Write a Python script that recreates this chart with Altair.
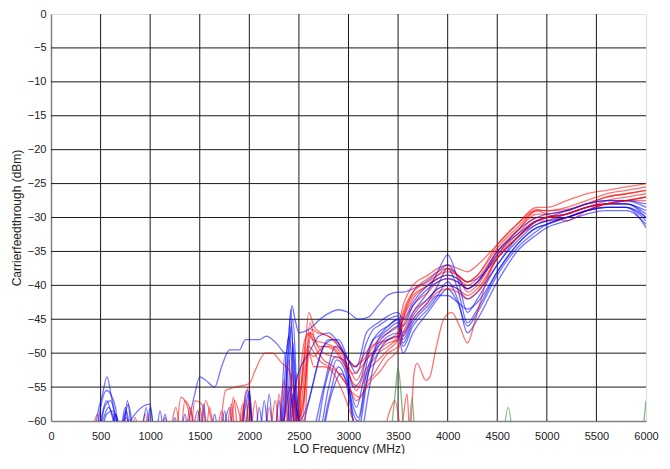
import altair as alt
import pandas as pd

X_TICKS = list(range(0, 6001, 500))
Y_TICKS = list(range(-60, 1, 5))
X_GRID = X_TICKS[1:-1]
Y_GRID = Y_TICKS[1:-1]

# shared frequency grid for the upper (3300-6000 MHz) part of most traces
X_HI = [3300, 3400, 3500, 3550, 3650, 3800, 3900, 4000, 4100, 4200,
        4300, 4500, 4700, 4900, 5000, 5200, 5400, 5600, 5800, 6000]

# ---- blue traces ----
B1_LO = [(1350, -63), (1450, -56), (1500, -53.5), (1560, -54), (1650, -55), (1720, -52),
         (1800, -49.5), (1900, -49.5), (1960, -48), (2100, -48), (2170, -47.5), (2270, -48.5),
         (2370, -50), (2400, -47), (2430, -43), (2460, -45), (2500, -47), (2600, -46.5),
         (2730, -44.8), (2900, -43.6), (3000, -44), (3100, -45), (3200, -44.7)]
B1_HI = [-43, -41.4, -41, -41, -40.5, -39.3, -38, -37, -38.5, -39.5, -39, -36, -33, -30.5, -30, -29.5, -28.5, -28, -28, -29]

B2_LO = [(430, -63), (470, -59), (520, -56), (565, -53.5), (610, -56.5), (660, -60), (700, -62),
         (780, -57.5), (840, -62), (1200, -63), (1950, -63), (2000, -56), (2050, -63), (2300, -63),
         (2380, -52), (2420, -43.5), (2460, -60), (2520, -62), (2620, -62), (2750, -55), (2870, -49),
         (2950, -50), (3030, -56), (3080, -58), (3150, -54), (3220, -49)]
B2_HI = [-47, -46, -45, -47, -44, -41, -38, -35.5, -39, -44, -42, -37, -33.5, -31, -30.5, -30, -29, -28, -28, -30]

B3_LO = [(450, -63), (500, -58), (560, -55.5), (600, -56), (650, -58), (700, -63), (800, -60),
         (1000, -57.5), (1050, -63), (1400, -63), (1480, -58.5), (1530, -63), (2150, -63), (2200, -56),
         (2250, -63), (2350, -60), (2400, -49), (2440, -45), (2480, -56), (2530, -63), (2650, -63),
         (2760, -55), (2870, -50.5), (2950, -51), (3050, -59), (3100, -60), (3170, -55), (3250, -50)]
B3_HI = [-48, -46.5, -45.5, -48, -45, -42.5, -40, -37.5, -40.5, -45.5, -43.5, -38, -34, -31.5, -31, -30, -29, -28.5, -28.5, -31.5]

B4_LO = [(480, -63), (540, -58), (600, -57), (660, -60), (720, -63), (770, -57), (830, -63),
         (950, -63), (1000, -58), (1050, -63), (1700, -63), (1800, -58), (1850, -63), (2300, -63),
         (2400, -47.5), (2450, -55), (2500, -60), (2600, -57), (2700, -51), (2800, -48), (2900, -48),
         (3000, -51), (3080, -53), (3180, -48.5), (3250, -46.5)]
B4_HI = [-46, -45, -44.5, -46, -43, -40.5, -39.5, -39, -39.5, -40.5, -39.5, -35.5, -32, -30, -29.5, -29, -28, -27.5, -27.5, -28.5]

B5_LO = [(450, -63), (520, -60), (580, -58), (640, -60), (700, -63), (1100, -63), (1150, -59),
         (1200, -63), (1900, -63), (1980, -55.5), (2050, -62), (2200, -60), (2300, -63), (2420, -55),
         (2470, -63), (2700, -63), (2800, -57), (2900, -52), (2970, -54), (3050, -60), (3100, -61),
         (3200, -53), (3250, -50.5)]
B5_HI = [-49, -47.5, -47, -49, -46, -43.5, -41.5, -39.5, -42, -47, -45, -39.5, -35, -32.5, -31.5, -30.5, -29.5, -29, -29, -31]

B6_LO = [(600, -63), (650, -59), (700, -61), (750, -58), (800, -63), (1200, -63), (1250, -59.5),
         (1300, -63), (1500, -63), (1540, -57.5), (1580, -63), (2100, -63), (2150, -57), (2200, -63),
         (2380, -63), (2420, -46), (2450, -52), (2500, -62), (2550, -60), (2650, -54), (2750, -49),
         (2850, -48), (2950, -50), (3050, -55), (3120, -54), (3200, -49.5), (3250, -48)]
B6_HI = [-47.5, -46, -45, -47.5, -44.5, -42, -40.5, -40, -40.5, -42, -41, -37, -33, -31, -30.5, -29.5, -28.5, -28, -28, -29.5]

B7_LO = [(500, -63), (560, -59), (620, -58.5), (680, -63), (900, -63), (960, -58), (1010, -63),
         (1700, -63), (1750, -58.5), (1800, -63), (2300, -63), (2360, -50), (2400, -60), (2440, -56),
         (2500, -63), (2700, -63), (2830, -56), (2920, -53), (3000, -55), (3060, -61), (3120, -62),
         (3200, -56), (3250, -52)]
B7_HI = [-50, -48, -47.5, -50, -47, -44, -42, -40.5, -42.5, -46, -44, -38.5, -34.5, -32, -31, -30, -29, -28.5, -28.5, -30.5]

B8_LO = [(700, -63), (760, -58.5), (820, -63), (1300, -63), (1350, -59), (1400, -63), (1900, -63),
         (1960, -58), (2000, -55.5), (2030, -63), (2250, -63), (2300, -57), (2340, -63), (2420, -60),
         (2460, -55), (2520, -52), (2600, -50), (2700, -47.5), (2800, -47), (2900, -48.5), (3000, -51),
         (3080, -52), (3180, -47), (3250, -46)]
B8_HI = [-45.5, -44.5, -44, -45, -42.5, -40, -39, -38.5, -39, -40.5, -39.5, -35, -32.5, -30.5, -30, -29, -28, -27.5, -27.5, -28]

B9_LO = [(450, -63), (500, -60), (560, -57), (620, -59.5), (680, -63), (1050, -63), (1100, -58.5),
         (1150, -63), (1600, -63), (1650, -59), (1700, -63), (2050, -63), (2100, -58), (2150, -63),
         (2400, -63), (2440, -48.5), (2480, -58), (2560, -63), (2700, -62), (2800, -55), (2880, -51),
         (2950, -52), (3050, -58), (3100, -59.5), (3180, -53), (3250, -50)]
B9_HI = [-48.5, -47, -46, -48.5, -45.5, -43, -41.5, -41.5, -42.5, -43.5, -42.5, -38, -34, -31.5, -31, -30, -29, -28.5, -28.5, -30]

# ---- red traces ----
R1_LO = [(440, -60), (470, -59), (520, -63), (1300, -63), (1350, -57), (1420, -59), (1480, -63),
         (1800, -63), (1850, -57), (1900, -59), (1950, -63), (2300, -63), (2400, -55), (2450, -60),
         (2550, -52), (2600, -44), (2650, -46), (2720, -47), (2850, -48), (2950, -50), (3050, -52),
         (3150, -51), (3250, -49)]
R1_HI = [-48, -47, -46, -43, -40, -38.5, -37.5, -37, -37.5, -38, -37, -34, -31, -28.5, -28.5, -27.5, -26.5, -26, -25.5, -25]

R2_LO = [(600, -63), (650, -59), (720, -63), (1250, -63), (1310, -56.5), (1380, -58), (1440, -63),
         (1900, -63), (1960, -56), (2000, -55), (2040, -63), (2330, -63), (2400, -51), (2440, -58),
         (2520, -55), (2580, -47), (2640, -48), (2750, -48.5), (2900, -49.5), (3000, -52), (3080, -54),
         (3180, -51), (3250, -50)]
R2_HI = [-49, -48, -47, -44, -41, -39.5, -38.5, -38, -38.5, -39.5, -38.5, -34.5, -31.5, -29, -29, -28.5, -27.5, -26.5, -26, -25.5]

R3_LO = [(700, -63), (760, -59.5), (830, -63), (1400, -63), (1450, -57), (1520, -57.5), (1600, -63),
         (1750, -63), (1820, -57.5), (1870, -63), (2200, -63), (2260, -57), (2320, -63), (2450, -63),
         (2500, -55), (2560, -48), (2620, -47), (2700, -49), (2800, -49), (2900, -50), (3000, -53),
         (3080, -55.5), (3170, -52.5), (3250, -51)]
R3_HI = [-50, -49, -47.5, -45, -42, -40, -39, -38.5, -39, -40, -39, -35, -32, -29.5, -29.5, -29, -28, -27, -26.5, -26]

R4_LO = [(1100, -63), (1150, -59.5), (1200, -63), (1500, -63), (1560, -57), (1620, -60), (1680, -63),
         (1880, -63), (1930, -57.5), (1990, -63), (2150, -63), (2200, -58), (2260, -63), (2380, -63),
         (2430, -53), (2480, -60), (2550, -57), (2610, -45.5), (2660, -48), (2750, -50), (2850, -50.5),
         (2950, -51), (3050, -54.5), (3120, -55), (3200, -52.5), (3260, -51.5)]
R4_HI = [-51, -49.5, -48, -46, -43, -41, -39.5, -39, -39.5, -40.5, -39.5, -35.5, -32.5, -30, -30, -29.5, -28.5, -27.5, -27, -26.5]

R5_LO = [(900, -63), (950, -59), (1000, -63), (1350, -63), (1400, -58), (1460, -63), (1650, -63),
         (1720, -58.5), (1770, -63), (2000, -63), (2060, -57), (2110, -63), (2350, -63), (2420, -56),
         (2460, -62), (2520, -58), (2590, -50), (2650, -50.5), (2750, -49), (2850, -49.5), (2950, -51.5),
         (3050, -53), (3130, -52), (3230, -50)]
R5_HI = [-49.5, -48.5, -48, -45, -41.5, -40, -38.5, -37.5, -38.5, -41, -40, -35, -32, -29, -29.5, -30.5, -29, -28, -27.5, -27]

R6_LO = [(1700, -63), (1760, -55.5), (1860, -55), (2000, -54.5), (2060, -52.5), (2160, -50),
         (2230, -50), (2330, -51.5), (2400, -52.5), (2450, -56), (2500, -60), (2560, -55), (2610, -47),
         (2660, -49), (2750, -51), (2850, -52), (2950, -54), (3050, -56), (3120, -56.5), (3200, -54),
         (3260, -53)]
R6_HI = [-52, -50, -49, -47, -44, -42, -40.5, -40, -40.5, -41.5, -40.5, -36, -33, -30.5, -30.5, -30, -29, -28, -27.5, -27]

R7_LO = [(1200, -63), (1260, -58), (1320, -63), (1550, -63), (1600, -58), (1660, -63), (1950, -63),
         (2000, -57), (2040, -63), (2250, -63), (2300, -56), (2350, -63), (2420, -63), (2480, -53),
         (2530, -60), (2580, -52), (2630, -46.5), (2690, -47), (2800, -47.5), (2900, -49), (3000, -51),
         (3070, -52), (3170, -50), (3250, -48.8)]
R7_HI = [-48.5, -48, -47.5, -44.5, -41, -39, -38, -37.5, -38.5, -39.5, -38.5, -34, -31, -28.8, -29, -28.8, -28, -27, -26.5, -26]

R8_LO = [(800, -63), (850, -59.5), (900, -63), (1450, -63), (1500, -58), (1560, -63), (1780, -63),
         (1840, -56.5), (1900, -63), (2280, -63), (2350, -54), (2400, -63), (2480, -63), (2540, -52),
         (2600, -49), (2700, -51), (2800, -52), (2900, -53), (3000, -55), (3080, -57), (3180, -55),
         (3260, -53.5)]
R8_HI = [-53, -51, -49.5, -47.5, -45, -42.5, -41, -40.5, -41, -42, -41, -36, -33, -30.5, -30, -29.5, -28.5, -28, -27.5, -27.5]

R9_ALL = [(1900, -63), (1960, -57), (2020, -63), (2400, -63), (2450, -57), (2500, -63), (2550, -63),
          (2600, -50), (2650, -52), (2750, -52), (2850, -53), (2950, -56), (3050, -60), (3150, -63),
          (3330, -63), (3410, -58.8), (3470, -57), (3530, -61), (3590, -56), (3620, -62), (3660, -53),
          (3690, -51.5), (3780, -54), (3820, -53.5), (3880, -49.5), (3960, -45), (4040, -44),
          (4120, -46), (4200, -48.5), (4280, -45), (4400, -39), (4500, -36), (4700, -33), (4900, -30.5),
          (5000, -30), (5200, -29.5), (5400, -28.5), (5600, -28), (5800, -27.5), (6000, -27)]

# ---- green traces ----
G1 = [(3420, -63), (3470, -56), (3500, -52.2), (3530, -56), (3560, -63)]
G2 = [(3610, -63), (3640, -56.6), (3670, -63)]
G3 = [(4560, -63), (4610, -58), (4660, -63)]
G4 = [(5960, -63), (6000, -57)]

CURVES = [
    ("R1", "red", R1_LO, R1_HI), ("B1", "blue", B1_LO, B1_HI),
    ("R2", "red", R2_LO, R2_HI), ("B2", "blue", B2_LO, B2_HI),
    ("R3", "red", R3_LO, R3_HI), ("B3", "blue", B3_LO, B3_HI),
    ("R4", "red", R4_LO, R4_HI), ("B4", "blue", B4_LO, B4_HI),
    ("R5", "red", R5_LO, R5_HI), ("B5", "blue", B5_LO, B5_HI),
    ("R6", "red", R6_LO, R6_HI), ("B6", "blue", B6_LO, B6_HI),
    ("R7", "red", R7_LO, R7_HI), ("B7", "blue", B7_LO, B7_HI),
    ("R8", "red", R8_LO, R8_HI), ("B8", "blue", B8_LO, B8_HI),
    ("R9", "red", R9_ALL, None), ("B9", "blue", B9_LO, B9_HI),
    ("G1", "green", G1, None), ("G2", "green", G2, None),
    ("G3", "green", G3, None), ("G4", "green", G4, None),
]

rows = []
for order, (cid, grp, lo, hi) in enumerate(CURVES):
    for x, y in lo:
        rows.append({"cid": f"{order:02d}_{cid}", "grp": grp, "x": x, "y": y})
    if hi is not None:
        for x, y in zip(X_HI, hi):
            rows.append({"cid": f"{order:02d}_{cid}", "grp": grp, "x": x, "y": y})
df = pd.DataFrame(rows)

FONT = "Liberation Sans"
TXT = "#222222"

xscale = alt.Scale(domain=[0, 6000], nice=False, zero=False)
yscale = alt.Scale(domain=[-60, 0], nice=False, zero=False)

x_axis = alt.Axis(values=X_TICKS, format="d", title="LO Frequency (MHz)", grid=False,
                  ticks=False, labelPadding=9, titlePadding=2,
                  domainColor="#808080", domainWidth=1.5,
                  labelFont=FONT, labelFontSize=11, labelColor=TXT,
                  titleFont=FONT, titleFontSize=12, titleColor=TXT,
                  titleFontWeight="normal", labelFlush=False)
y_axis = alt.Axis(values=Y_TICKS, format="d", title="Carrierfeedthrough (dBm)", grid=False,
                  ticks=False, labelPadding=5, titlePadding=4,
                  domainColor="#808080", domainWidth=1.5,
                  labelFont=FONT, labelFontSize=11, labelColor=TXT,
                  titleFont=FONT, titleFontSize=12, titleColor=TXT,
                  titleFontWeight="normal", labelFlush=False)

vgrid = alt.Chart(pd.DataFrame({"gx": X_GRID})).mark_rule(
    color="#1a1a1a", strokeWidth=1).encode(
    x=alt.X("gx:Q", scale=xscale, axis=x_axis))
hgrid = alt.Chart(pd.DataFrame({"gy": Y_GRID})).mark_rule(
    color="#1a1a1a", strokeWidth=1).encode(
    y=alt.Y("gy:Q", scale=yscale, axis=y_axis))

lines = alt.Chart(df).mark_line(clip=True, strokeWidth=1.3, opacity=0.55,
                                interpolate="monotone").encode(
    x=alt.X("x:Q", scale=xscale, axis=x_axis),
    y=alt.Y("y:Q", scale=yscale, axis=y_axis),
    color=alt.Color("grp:N", scale=alt.Scale(domain=["red", "blue", "green"],
                                             range=["#ff0000", "#0000ff", "#1f7a1f"]),
                    legend=None),
    detail="cid:N",
    order=alt.Order("x:Q"),
)

chart = alt.layer(vgrid, hgrid, lines).properties(
    width=595, height=407,
    padding={"left": 2, "top": 0, "right": 0, "bottom": 0},
).configure_view(stroke="#b0b0b0", strokeWidth=1.5).configure(background="white")

chart.save("out.html", embed_options={"renderer": "svg", "actions": False})
